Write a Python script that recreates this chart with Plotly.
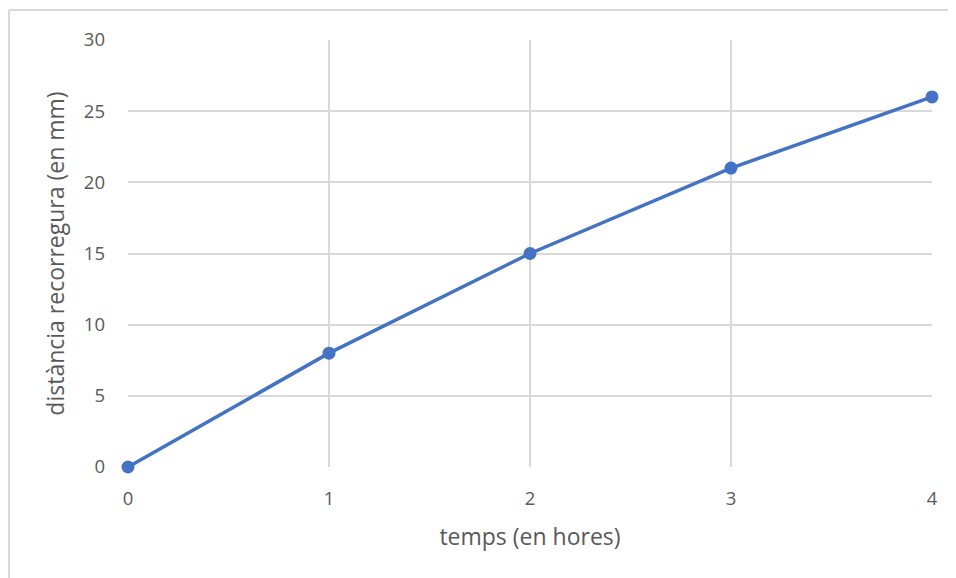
import plotly.graph_objects as go

hores = [0, 1, 2, 3, 4]
distancia = [0, 8, 15, 21, 26]
x_ticks = [0, 1, 2, 3, 4]
y_ticks = [0, 5, 10, 15, 20, 25, 30]

fig = go.Figure()
fig.add_trace(go.Scatter(
    x=hores, y=distancia, mode="lines+markers",
    line=dict(color="#4472C4", width=3.5),
    marker=dict(color="#4472C4", size=13),
    cliponaxis=False, showlegend=False,
))

font_color = "#595959"
W, H = 948, 570
L, T = 120, 32
PW, PH = 804, 427
fig.update_layout(
    width=W, height=H,
    margin=dict(l=L, r=W - L - PW, t=T, b=H - T - PH),
    paper_bgcolor="white", plot_bgcolor="white",
    font=dict(family="Open Sans, sans-serif", color=font_color, size=18.5),
    xaxis=dict(
        range=[0, 4], tickvals=x_ticks, showgrid=True, gridcolor="#d9d9d9", gridwidth=2,
        zeroline=False, showline=False, ticks="", ticklabelstandoff=18,
        title=dict(text="temps (en hores)", font=dict(size=23, color=font_color), standoff=20),
    ),
    yaxis=dict(
        range=[0, 30], tickvals=y_ticks, showgrid=True, gridcolor="#d9d9d9", gridwidth=2,
        zeroline=False, showline=False, ticks="", ticklabelstandoff=22,
        title=dict(text="distància recorregura (en mm)", font=dict(size=23, color=font_color), standoff=12),
    ),
)
bx0 = -(L - 1) / PW
by1 = 1 + 30 / PH
fig.add_shape(type="line", xref="paper", yref="paper",
              x0=bx0, x1=1 + 200 / PW, y0=by1, y1=by1,
              line=dict(color="#d9d9d9", width=2), layer="below")
fig.add_shape(type="line", xref="paper", yref="paper",
              x0=bx0, x1=bx0, y0=-200 / PH, y1=by1,
              line=dict(color="#d9d9d9", width=2), layer="below")

fig.write_html("out.html")
